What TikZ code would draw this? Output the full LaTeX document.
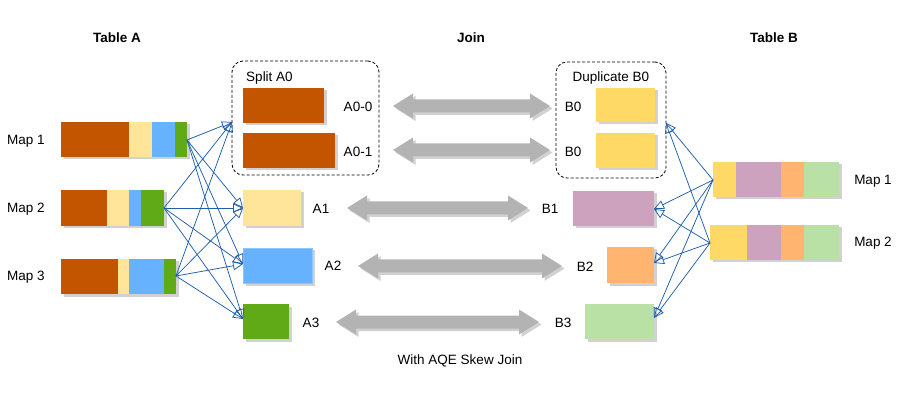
\documentclass[tikz,border=0pt]{standalone}
\usepackage{fontspec}
\setmainfont{Liberation Sans}
\usetikzlibrary{arrows.meta,shadows}
\definecolor{cBrown}{HTML}{C45500}
\definecolor{cLYel}{HTML}{FFE599}
\definecolor{cBlue}{HTML}{66B2FF}
\definecolor{cGreen}{HTML}{60A917}
\definecolor{cYel}{HTML}{FFD966}
\definecolor{cPurp}{HTML}{CDA2BE}
\definecolor{cOrg}{HTML}{FFB570}
\definecolor{cLGreen}{HTML}{B9E0A5}
\definecolor{cGray}{HTML}{B3B3B3}
\definecolor{cLine}{HTML}{1F5FAA}
\tikzset{
  shad/.style={drop shadow={shadow xshift=2.5pt,shadow yshift=-2.5pt,opacity=0.18,fill=black}},
  blk/.style={anchor=north west,inner sep=0pt,outer sep=0pt,draw=none},
  lbl/.style={inner sep=0pt,font=\fontsize{13.5}{16}\selectfont},
  ttl/.style={inner sep=0pt,font=\fontsize{13.5}{16}\selectfont\bfseries},
  grp/.style={draw=black,dashed,dash pattern=on 3pt off 2pt,line width=0.8pt,rounded corners=11pt},
  conn/.style={draw=cLine,line width=0.75pt,-{Triangle[open,length=10pt,width=9pt,line width=0.75pt]}},
  fat/.style={fill=cGray,shad}
}
% gray double arrow: x1, x2, y
\newcommand\grayarr[3]{%
  \path[fat] (#1,#3) -- (#1+20,#3-12.5) -- (#1+20,#3-6.5) -- (#2-20,#3-6.5) -- (#2-20,#3-12.5) -- (#2,#3)
   -- (#2-20,#3+12.5) -- (#2-20,#3+6.5) -- (#1+20,#3+6.5) -- (#1+20,#3+12.5) -- cycle;}
\begin{document}
\begin{tikzpicture}[x=1pt,y=-1pt]
\useasboundingbox (0,0) rectangle (915,395);

% titles
\node[ttl] (tA) at (117,38) {Table A};
\node[ttl] (tJ) at (471,38) {Join};
\node[ttl] (tB) at (774,38) {Table B};
\node[lbl] (cap) at (460,361) {With AQE Skew Join};

% ---------- Table A maps ----------
\node[blk,shad,fill=white,minimum width=126pt,minimum height=35pt] (mapA1) at (61,122) {};
\node[blk,fill=cBrown,minimum width=68pt,minimum height=35pt] at (61,122) {};
\node[blk,fill=cLYel,minimum width=23pt,minimum height=35pt] at (129,122) {};
\node[blk,fill=cBlue,minimum width=23pt,minimum height=35pt] at (152,122) {};
\node[blk,fill=cGreen,minimum width=12pt,minimum height=35pt] at (175,122) {};

\node[blk,shad,fill=white,minimum width=103pt,minimum height=36pt] (mapA2) at (61,190) {};
\node[blk,fill=cBrown,minimum width=46pt,minimum height=36pt] at (61,190) {};
\node[blk,fill=cLYel,minimum width=22pt,minimum height=36pt] at (107,190) {};
\node[blk,fill=cBlue,minimum width=12pt,minimum height=36pt] at (129,190) {};
\node[blk,fill=cGreen,minimum width=23pt,minimum height=36pt] at (141,190) {};

\node[blk,shad,fill=white,minimum width=115pt,minimum height=35pt] (mapA3) at (61,259) {};
\node[blk,fill=cBrown,minimum width=57pt,minimum height=35pt] at (61,259) {};
\node[blk,fill=cLYel,minimum width=11pt,minimum height=35pt] at (118,259) {};
\node[blk,fill=cBlue,minimum width=35pt,minimum height=35pt] at (129,259) {};
\node[blk,fill=cGreen,minimum width=12pt,minimum height=35pt] at (164,259) {};

\node[lbl] (lA1) at (26,141) {Map 1};
\node[lbl] (lA2) at (26,209) {Map 2};
\node[lbl] (lA3) at (26,277) {Map 3};

% ---------- Split A0 ----------
\node[blk,grp,minimum width=147pt,minimum height=114pt] (split) at (232,61) {};
\node[lbl] (splitlbl) at (269.5,78) {Split A0};
\node[blk,shad,fill=cBrown,minimum width=81pt,minimum height=35pt] (a00) at (243,88) {};
\node[blk,shad,fill=cBrown,minimum width=92pt,minimum height=35pt] (a01) at (243,133) {};
\node[lbl] (la00) at (358,107) {A0-0};
\node[lbl] (la01) at (358,152) {A0-1};

\node[blk,shad,fill=cLYel,minimum width=58pt,minimum height=36pt] (a1) at (243,190) {};
\node[blk,shad,fill=cBlue,minimum width=69pt,minimum height=35pt,draw=cBlue!75!white,line width=0.6pt] (a2) at (243,248) {};
\node[blk,shad,fill=cGreen,minimum width=46pt,minimum height=35pt] (a3) at (243,304) {};
\node[lbl] (la1) at (321,209) {A1};
\node[lbl] (la2) at (333,266) {A2};
\node[lbl] (la3) at (311,323) {A3};

% ---------- Duplicate B0 ----------
\node[blk,grp,minimum width=110pt,minimum height=116pt] (dup) at (556,62) {};
\node[lbl] (duplbl) at (611,78) {Duplicate B0};
\node[blk,shad,fill=cYel,minimum width=59pt,minimum height=34pt] (b00) at (596,88) {};
\node[blk,shad,fill=cYel,minimum width=59pt,minimum height=35pt] (b01) at (596,133) {};
\node[lbl] (lb00) at (573,107) {B0};
\node[lbl] (lb01) at (573,152) {B0};

\node[blk,shad,fill=cPurp,minimum width=81pt,minimum height=35pt] (b1) at (573,191) {};
\node[blk,shad,fill=cOrg,minimum width=47pt,minimum height=36pt] (b2) at (607,247) {};
\node[blk,shad,fill=cLGreen,minimum width=69pt,minimum height=35pt] (b3) at (585,304) {};
\node[lbl] (lb1) at (550,209) {B1};
\node[lbl] (lb2) at (585,267) {B2};
\node[lbl] (lb3) at (563,323) {B3};

% ---------- Table B maps ----------
\node[blk,shad,fill=white,minimum width=126pt,minimum height=35pt] (mapB1) at (713,162) {};
\node[blk,fill=cYel,minimum width=23pt,minimum height=35pt] at (713,162) {};
\node[blk,fill=cPurp,minimum width=45pt,minimum height=35pt] at (736,162) {};
\node[blk,fill=cOrg,minimum width=23pt,minimum height=35pt] at (781,162) {};
\node[blk,fill=cLGreen,minimum width=35pt,minimum height=35pt] at (804,162) {};

\node[blk,shad,fill=white,minimum width=129pt,minimum height=35pt] (mapB2) at (710,225) {};
\node[blk,fill=cYel,minimum width=37pt,minimum height=35pt] at (710,225) {};
\node[blk,fill=cPurp,minimum width=34pt,minimum height=35pt] at (747,225) {};
\node[blk,fill=cOrg,minimum width=23pt,minimum height=35pt] at (781,225) {};
\node[blk,fill=cLGreen,minimum width=35pt,minimum height=35pt] at (804,225) {};

\node[lbl] (lB1) at (873,181) {Map 1};
\node[lbl] (lB2) at (873,243) {Map 2};

% ---------- gray join arrows ----------
\grayarr{393}{550}{106}
\grayarr{393}{550}{150}
\grayarr{347}{528}{208}
\grayarr{358}{562}{266}
\grayarr{336}{539}{322}

% ---------- connector points ----------
\coordinate (s1) at (187,140);
\coordinate (s2) at (164,208);
\coordinate (s3) at (176,276);
\coordinate (t0) at (232,122);
\coordinate (t1) at (243,208);
\coordinate (t2) at (243,264);
\coordinate (t3) at (243,319);
\coordinate (r1) at (713,180);
\coordinate (r2) at (710,243);
\coordinate (u0) at (666,123);
\coordinate (u1) at (654,209);
\coordinate (u2) at (654,263);
\coordinate (u3) at (654,318);

\foreach \s in {s1,s2,s3}{
  \foreach \t in {t0,t1,t2,t3}{
    \draw[conn] (\s) -- (\t);
  }
}
\foreach \s in {r1,r2}{
  \foreach \t in {u0,u1,u2,u3}{
    \draw[conn] (\s) -- (\t);
  }
}
\end{tikzpicture}
\end{document}
